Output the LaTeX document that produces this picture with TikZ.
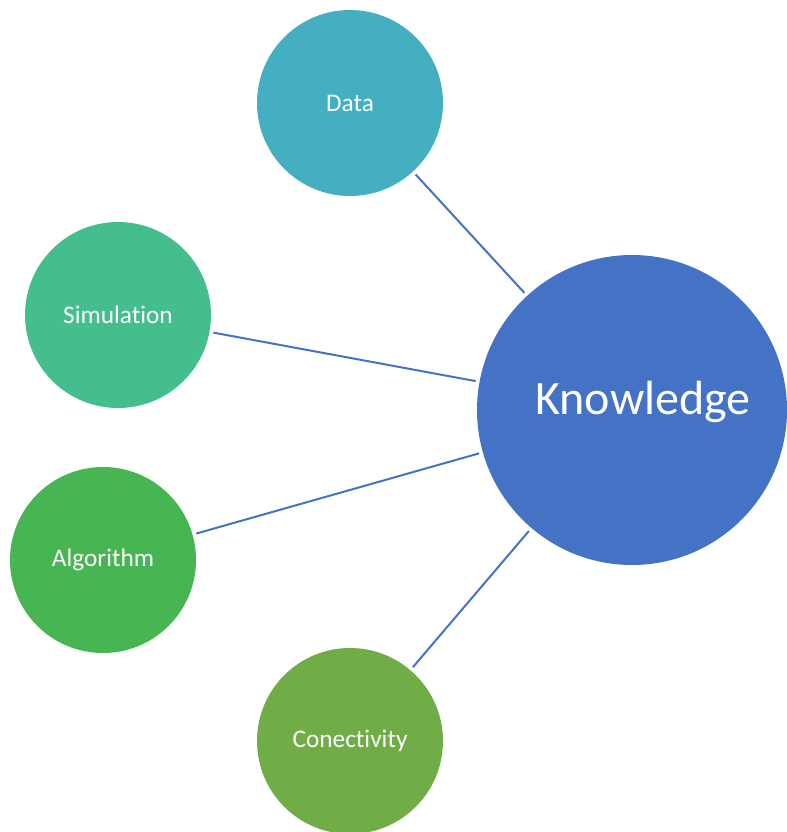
\documentclass[tikz,border=0pt]{standalone}
\usepackage{fontspec}
\setmainfont{Carlito}[RawFeature={-liga;-clig;-calt;-dlig}]
\usetikzlibrary{positioning}
\usepackage{xcolor}
\definecolor{datacol}{RGB}{69,175,194}
\definecolor{simcol}{RGB}{69,190,141}
\definecolor{algcol}{RGB}{72,181,83}
\definecolor{concol}{RGB}{112,173,71}
\definecolor{knowcol}{RGB}{68,114,196}
\tikzset{
    every node/.style={font=\fontsize{19}{22}\selectfont, text=white},
    smallcircle/.style={circle, minimum size=186*0.75pt, inner sep=0pt, outer sep=3pt},
    bigcircle/.style={circle, fill=knowcol, minimum size=310*0.75pt, inner sep=0pt, outer sep=3pt},
    bigtext/.style={font=\fontsize{36}{42}\selectfont, xshift=11*0.75pt, yshift=8*0.75pt},
    link/.style={draw=knowcol, line width=1.5pt},
}
\begin{document}
\begin{tikzpicture}[x=0.75pt, y=-0.75pt]
   \useasboundingbox (0,0) rectangle (786,832);
% centre node, the outer nodes round it
   \node[bigcircle, label={[bigtext]center:Knowledge}] (know) at (632,410) {};
   \node[smallcircle, fill=datacol] (data) at (350,103) {Data};
   \node[smallcircle, fill=simcol] (sim) at (118,315) {Simulat\kern0pt ion};
   \node[smallcircle, fill=algcol] (alg) at (103,560) {Algorithm};
   \node[smallcircle, fill=concol] (con) at (350,741) {Conect\kern0pt ivit\kern0pt y};
   \draw[link] (data) -- (know);
   \draw[link] (sim) -- (know);
   \draw[link] (alg) -- (know);
   \draw[link] (con) -- (know);
\end{tikzpicture}
\end{document}
